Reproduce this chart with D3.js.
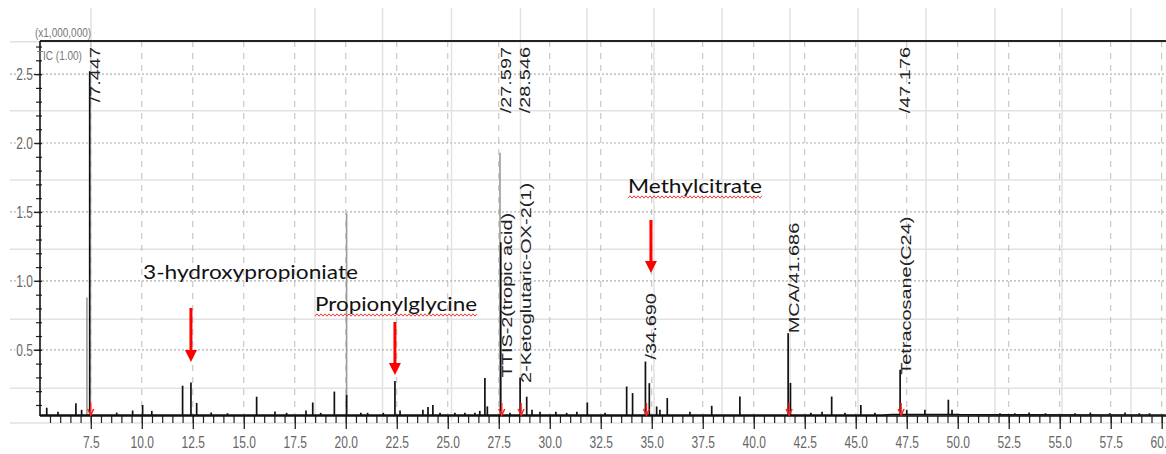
<!DOCTYPE html>
<html>
<head>
<meta charset="utf-8">
<script src="https://cdn.jsdelivr.net/npm/d3@7"></script>
<style>
  body { margin: 0; background: #fff; }
  svg { display: block; }
  text { font-family: "Liberation Sans", Arial, sans-serif; }
</style>
</head>
<body>
<svg id="chart" width="1166" height="454"></svg>
<script>
// retention time (min) and intensity (x1,000,000) of the black TIC trace peaks
const peakTimes = [5.34, 5.89, 6.77, 7.05, 7.447, 8.77, 9.55, 10.04, 10.49, 12.00, 12.41, 12.69, 13.4, 14.2,
    15.63, 16.53, 17.10, 18.05, 18.38, 18.77, 19.44, 20.04, 20.74, 21.07, 21.84, 22.41, 22.66, 23.78, 24.03,
    24.27, 24.62, 25.35, 25.84, 26.33, 26.57, 26.82, 26.94, 27.597, 28.05, 28.546, 28.87, 29.13, 29.52, 30.30,
    30.83, 31.33, 31.84, 32.71, 33.77, 34.06, 34.69, 34.88, 35.24, 35.40, 35.76, 36.87, 37.94, 39.32, 41.686,
    41.80, 42.80, 43.35, 43.82, 44.47, 45.25, 45.94, 47.176, 47.50, 48.39, 49.54, 49.72, 52.07, 52.80, 53.50,
    54.30, 55.75, 56.50, 57.45, 58.20, 58.90, 59.40];
const peakValues = [0.08, 0.05, 0.113, 0.065, 2.52, 0.045, 0.06, 0.10, 0.057, 0.24, 0.263, 0.115, 0.045, 0.04,
    0.16, 0.052, 0.043, 0.06, 0.118, 0.043, 0.197, 0.173, 0.043, 0.043, 0.043, 0.273, 0.06, 0.065, 0.086,
    0.10, 0.043, 0.043, 0.043, 0.043, 0.057, 0.295, 0.09, 1.28, 0.043, 0.30, 0.16, 0.065, 0.05, 0.05,
    0.043, 0.05, 0.118, 0.043, 0.234, 0.186, 0.415, 0.258, 0.089, 0.065, 0.15, 0.05, 0.094, 0.161, 0.62,
    0.26, 0.043, 0.05, 0.161, 0.043, 0.10, 0.043, 0.355, 0.065, 0.065, 0.138, 0.065, 0.04, 0.04, 0.045,
    0.04, 0.04, 0.045, 0.04, 0.045, 0.04, 0.04];

// second (gray) trace
const grayTimes = [7.31, 20.04, 27.56];
const grayValues = [0.88, 1.49, 1.93];

// trace baseline
const baseTimes = [5.0, 46.3, 46.8, 49.9, 50.2, 52.3, 60.2];
const baseValues = [0.026, 0.026, 0.030, 0.031, 0.029, 0.028, 0.027];

// retention-time labels printed at the top
const rtLabelTimes = [7.447, 27.597, 28.546, 47.176];

// compound labels above peaks
const nameTimes = [27.597, 28.546, 34.690, 41.686, 47.176];
const nameTexts = ["TTIS-2(tropic acid)", "2-Ketoglutaric-OX-2(1)", "/34.690", "MCA/41.686", "Tetracosane(C24)"];
const nameStarts = [0.30, 0.26, 0.43, 0.62, 0.32];

// peaks with a red marker
const markTimes = [7.447, 27.597, 28.546, 34.690, 41.686, 47.176];

// annotated metabolites
const noteTexts = ["3-hydroxypropioniate", "Propionylglycine", "Methylcitrate"];
const noteTimes = [12.41, 22.41, 34.96];

const xTicks = [7.5, 10.0, 12.5, 15.0, 17.5, 20.0, 22.5, 25.0, 27.5, 30.0, 32.5, 35.0, 37.5, 40.0,
    42.5, 45.0, 47.5, 50.0, 52.5, 55.0, 57.5, 60.0];
const yTicks = [0.5, 1.0, 1.5, 2.0, 2.5];


const svg = d3.select("#chart");
const width = +svg.attr("width");
const margin = { top: 41, right: 0, bottom: 38, left: 40 };
const plotBottom = 416;

const x = d3.scaleLinear()
    .domain([5.01, 60.21])
    .range([margin.left, width - margin.right]);

const y = d3.scaleLinear()
    .domain([0.02, 2.74])
    .range([plotBottom, margin.top]);

// light table grid behind the picture
const tableX = [91, 315, 382.5, 451.5, 520.5, 587, 654, 722, 790, 858, 926, 995, 1062, 1131];
const tableY = [41.7, 110.7, 180, 249.3, 319.3, 388.3, 423];

svg.append("g").selectAll("line").data(tableX).join("line")
    .attr("x1", d => d).attr("x2", d => d)
    .attr("y1", 8).attr("y2", 421)
    .attr("stroke", "#e2e2e2").attr("stroke-width", 1.5);

svg.append("g").selectAll("line").data(tableY).join("line")
    .attr("x1", 10).attr("x2", width)
    .attr("y1", d => d).attr("y2", d => d)
    .attr("stroke", "#e2e2e2").attr("stroke-width", 1.5);

// dashed vertical grid
svg.append("g").selectAll("line").data(xTicks).join("line")
    .attr("x1", d => x(d)).attr("x2", d => x(d))
    .attr("y1", margin.top).attr("y2", plotBottom)
    .attr("stroke", "#bdbdbd").attr("stroke-width", 1)
    .attr("stroke-dasharray", "6,6");

// dotted horizontal grid
svg.append("g").selectAll("line").data(yTicks).join("line")
    .attr("x1", 10).attr("x2", width)
    .attr("y1", d => y(d)).attr("y2", d => y(d))
    .attr("stroke", "#b0b0b0").attr("stroke-width", 1.2)
    .attr("stroke-dasharray", "2,2");

// gray trace
svg.append("g").selectAll("line").data(grayTimes).join("line")
    .attr("x1", d => x(d)).attr("x2", d => x(d))
    .attr("y1", y(0.026))
    .attr("y2", (d, i) => y(grayValues[i]))
    .attr("stroke", "#9a9a9a").attr("stroke-width", 1.6);

// baseline of the trace
const baseLine = d3.line()
    .x((d, i) => x(baseTimes[i]))
    .y(d => y(d));

svg.append("path")
    .datum(baseValues)
    .attr("d", baseLine)
    .attr("fill", "none")
    .attr("stroke", "#111")
    .attr("stroke-width", 1.6);

// black trace peaks
svg.append("g").selectAll("line").data(peakTimes).join("line")
    .attr("x1", d => x(d)).attr("x2", d => x(d))
    .attr("y1", y(0.026))
    .attr("y2", (d, i) => y(peakValues[i]))
    .attr("stroke", "#111").attr("stroke-width", 1.7);

// X axis
const xMinor = svg.append("g")
    .attr("transform", `translate(0, ${plotBottom})`)
    .call(d3.axisBottom(x).tickValues(d3.range(5.5, 60.1, 0.5)).tickSize(7).tickFormat(""));
xMinor.select(".domain").remove();
xMinor.selectAll("line").attr("stroke", "#222").attr("stroke-width", 1.2);

const xAxis = svg.append("g")
    .attr("transform", `translate(0, ${plotBottom})`)
    .call(d3.axisBottom(x).tickValues(xTicks).tickSize(13).tickFormat(d3.format(".1f")));
xAxis.select(".domain").remove();
xAxis.selectAll("line").attr("stroke", "#222").attr("stroke-width", 1.3);
xAxis.selectAll("text")
    .attr("y", 0).attr("dy", "0.35em")
    .attr("transform", "translate(0,27) scale(1,1.3)")
    .attr("fill", "#666")
    .style("font-size", "12px")
    .style("font-family", "Liberation Sans, Arial, sans-serif");

// Y axis
const yMinor = svg.append("g")
    .attr("transform", `translate(${margin.left + 2}, 0)`)
    .call(d3.axisLeft(y).tickValues(d3.range(0.1, 2.71, 0.1)).tickSize(6).tickFormat(""));
yMinor.select(".domain").remove();
yMinor.selectAll("line").attr("stroke", "#222").attr("stroke-width", 1.2);

const yAxis = svg.append("g")
    .attr("transform", `translate(${margin.left + 2}, 0)`)
    .call(d3.axisLeft(y).tickValues(yTicks).tickSize(9).tickFormat(d3.format(".1f")));
yAxis.select(".domain").remove();
yAxis.selectAll("line").attr("stroke", "#222").attr("stroke-width", 1.3);
yAxis.selectAll("text")
    .attr("x", -9).attr("dy", "0.35em")
    .attr("transform", "scale(1,1.3)")
    .attr("fill", "#666")
    .attr("stroke", "#fff").attr("stroke-width", 3).attr("paint-order", "stroke")
    .style("font-size", "12px")
    .style("font-family", "Liberation Sans, Arial, sans-serif");

// frame lines
svg.append("line")
    .attr("x1", margin.left).attr("x2", width)
    .attr("y1", margin.top).attr("y2", margin.top)
    .attr("stroke", "#222").attr("stroke-width", 2.2);
svg.append("line")
    .attr("x1", margin.left).attr("x2", width)
    .attr("y1", plotBottom).attr("y2", plotBottom)
    .attr("stroke", "#111").attr("stroke-width", 1.6);
svg.append("line")
    .attr("x1", margin.left).attr("x2", margin.left)
    .attr("y1", margin.top).attr("y2", plotBottom)
    .attr("stroke", "#111").attr("stroke-width", 1.6);

// unit label and trace name
svg.append("text")
    .attr("transform", "translate(35,32) scale(1,1.3)")
    .attr("dy", "0.35em")
    .attr("fill", "#777")
    .style("font-size", "10px")
    .text("(x1,000,000)");

svg.append("text")
    .attr("transform", "translate(37,55) scale(1,1.3)")
    .attr("dy", "0.35em")
    .attr("fill", "#777")
    .style("font-size", "10px")
    .text("TIC (1.00)");

// retention-time labels at the top
svg.append("g").selectAll("text").data(rtLabelTimes).join("text")
    .attr("transform", d => `translate(${x(d) + 5},47) scale(1,1.42) rotate(-90)`)
    .attr("text-anchor", "end")
    .attr("dy", "0.35em")
    .attr("fill", "#222")
    .style("font-size", "14px")
    .text(d => "/" + d.toFixed(3));

// compound labels
svg.append("g").selectAll("text").data(nameTimes).join("text")
    .attr("transform", (d, i) => `translate(${x(d) + 6},${y(nameStarts[i])}) scale(1,1.42) rotate(-90)`)
    .attr("text-anchor", "start")
    .attr("dy", "0.35em")
    .attr("fill", "#222")
    .style("font-size", "14px")
    .text((d, i) => nameTexts[i]);

// small red peak markers
const marks = svg.append("g").selectAll("g").data(markTimes).join("g")
    .attr("transform", d => `translate(${x(d) + 1},0)`);
marks.append("line")
    .attr("x1", 0).attr("x2", 0)
    .attr("y1", 403).attr("y2", 414)
    .attr("stroke", "#f22").attr("stroke-width", 1.5);
marks.append("path")
    .attr("d", "M-3,409 L0,415 L3,409")
    .attr("fill", "none")
    .attr("stroke", "#f22").attr("stroke-width", 1.5);

// annotations with red arrows
const noteLayout = [
    { textX: 143, textY: 279, textW: 215, top: 308, tip: 362, wavy: false },
    { textX: 315, textY: 311, textW: 162, top: 322, tip: 375, wavy: true },
    { textX: 628, textY: 193, textW: 134, top: 220, tip: 273, wavy: true }
];

noteTexts.forEach((label, i) => {
    const L = noteLayout[i];
    const ax = x(noteTimes[i]);

    svg.append("text")
        .attr("x", L.textX)
        .attr("y", L.textY)
        .attr("textLength", L.textW)
        .attr("lengthAdjust", "spacingAndGlyphs")
        .attr("fill", "#111")
        .style("font-family", "Lato, 'Open Sans', sans-serif")
        .style("font-size", "19px")
        .text(label);

    if (L.wavy) {
        const pts = d3.range(L.textX, L.textX + L.textW + 1, 2)
            .map((px, k) => [px, L.textY + 4 + (k % 2 ? -1.2 : 1.2)]);
        svg.append("path")
            .attr("d", d3.line()(pts))
            .attr("fill", "none")
            .attr("stroke", "#f03c3c")
            .attr("stroke-width", 1);
    }

    svg.append("line")
        .attr("x1", ax).attr("x2", ax)
        .attr("y1", L.top).attr("y2", L.tip - 10)
        .attr("stroke", "#f00")
        .attr("stroke-width", 3);
    svg.append("path")
        .attr("d", `M${ax - 6},${L.tip - 12} L${ax + 6},${L.tip - 12} L${ax},${L.tip} Z`)
        .attr("fill", "#f00");
});
</script>
</body>
</html>
